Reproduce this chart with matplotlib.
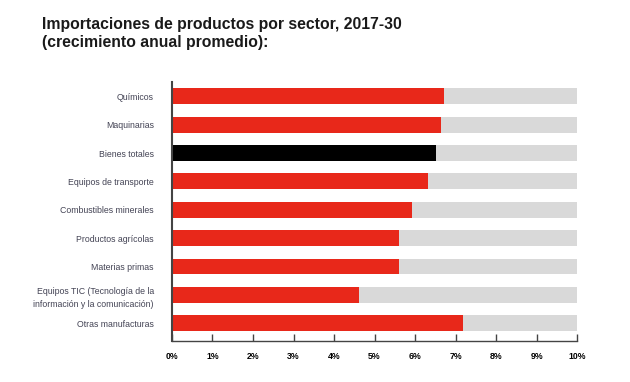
import matplotlib.pyplot as plt
import matplotlib.ticker as mticker

plt.rcParams['font.family'] = ['Liberation Sans', 'DejaVu Sans']

sectores = ['Químicos', 'Maquinarias', 'Bienes totales', 'Equipos de transporte',
            'Combustibles minerales', 'Productos agrícolas', 'Materias primas',
            'Equipos TIC (Tecnología de la\ninformación y la comunicación)',
            'Otras manufacturas']
crecimiento = [6.72, 6.64, 6.52, 6.32, 5.93, 5.6, 5.6, 4.62, 7.19]
maximo = 10

rojo = '#e8281a'
colores = [rojo, rojo, 'black', rojo, rojo, rojo, rojo, rojo, rojo]

fig = plt.figure(figsize=(6.3, 3.82), dpi=100)
ax = fig.add_axes([0.273, 0.107, 0.643, 0.678])

pos = range(len(sectores))
ax.barh(pos, [maximo] * len(sectores), height=0.56, color='#d9d9d9')
ax.barh(pos, crecimiento, height=0.56, color=colores)

ax.set_ylim(8.63, -0.5)
ax.set_xlim(0, 10)
ax.set_yticks(list(pos))
ax.set_yticklabels(sectores, fontsize=6.3, color='#444455', linespacing=1.6,
                   multialignment='right')
ax.tick_params(axis='y', length=0, pad=13)

ax.set_xticks(range(0, 11))
ax.xaxis.set_major_formatter(mticker.FuncFormatter(lambda v, p: f'{int(v)}%'))
ax.tick_params(axis='x', direction='in', length=5, width=1, color='#444444',
               labelsize=6.3, pad=8)
for lab in ax.get_xticklabels():
    lab.set_fontweight('bold')

for s in ['top', 'right']:
    ax.spines[s].set_visible(False)
ax.spines['left'].set_color('#444444')
ax.spines['left'].set_linewidth(1.5)
ax.spines['bottom'].set_color('#444444')
ax.spines['bottom'].set_linewidth(1)

fig.text(0.067, 0.955, 'Importaciones de productos por sector, 2017-30\n(crecimiento anual promedio):',
         fontsize=11.3, fontweight='bold', color='#1a1a1a', va='top', linespacing=1.2)

fig.savefig('out.png', dpi=100)
